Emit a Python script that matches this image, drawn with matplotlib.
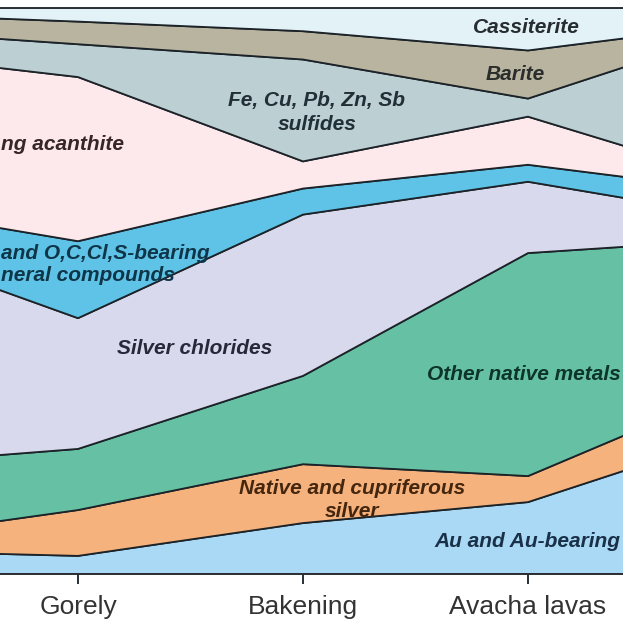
import matplotlib.pyplot as plt

plt.rcParams['font.family'] = ['Liberation Sans', 'DejaVu Sans']

# Data - five localities (the outer two are cut off in the figure), shares in %
positions = [0, 1, 2, 3, 4]
tick_pos = [1, 2, 3]
tick_labels = ['Gorely', 'Bakening', 'Avacha lavas']

au = [4.2, 3.2, 9.0, 12.7, 25.7]
native_silver = [1.5, 8.1, 10.4, 4.6, 8.4]
other_native = [13.3, 10.8, 15.6, 39.4, 25.2]
chlorides = [40.5, 23.1, 28.5, 12.6, 3.3]
ocls = [6.0, 13.6, 4.6, 3.0, 4.7]
acanthite = [26.9, 29.0, 4.8, 8.5, 1.4]
sulfides = [3.9, 5.8, 18.0, 3.2, 28.3]
barite = [2.8, 4.0, 5.0, 8.5, 0.5]
cassiterite = [0.9, 2.4, 4.1, 7.5, 2.5]

colors = ['#a9d9f4', '#f6b27c', '#66c1a4', '#d9d9ee', '#5ec3e6',
          '#fde9ec', '#bccfd3', '#b8b4a0', '#e2f2f7']

fig = plt.figure(figsize=(6.23, 6.23), dpi=100)
ax = fig.add_axes([0, 49/623, 1, 566/623])

ax.stackplot(positions, au, native_silver, other_native, chlorides, ocls,
             acanthite, sulfides, barite, cassiterite,
             colors=colors, edgecolor='#1c2328', linewidth=1.3)

# only the middle part of the original chart is visible
ax.set_xlim(1 - 78/225, 3 + 95/225)
ax.set_ylim(0, 100)

ax.spines['left'].set_visible(False)
ax.spines['right'].set_visible(False)
ax.spines['top'].set_color('#2a2f33')
ax.spines['bottom'].set_color('#2a2f33')
ax.spines['top'].set_linewidth(1.4)
ax.spines['bottom'].set_linewidth(1.4)

ax.set_yticks([])
ax.set_xticks(tick_pos)
ax.set_xticklabels(tick_labels, fontsize=19, color='#333333')
ax.tick_params(axis='x', direction='out', length=7, width=1.4, color='#2a2f33', pad=8)

# Layer labels
lab = dict(fontsize=15, fontweight='bold', fontstyle='italic', ha='center', va='center')
ax.text(2.991, 96.5, 'Cassiterite', color='#262c31', **lab)
ax.text(2.942, 88.3, 'Barite', color='#2a2d2b', **lab)
ax.text(2.062, 81.6, 'Fe, Cu, Pb, Zn, Sb\nsulfides', color='#222f37', linespacing=1.35, **lab)
ax.text(0.657, 75.8, 'ng acanthite', color='#352729', fontsize=15, fontweight='bold',
        fontstyle='italic', ha='left', va='center')
ax.text(0.657, 56.7, 'and O,C,Cl,S-bearing', color='#0f3549', fontsize=15, fontweight='bold',
        fontstyle='italic', ha='left', va='center')
ax.text(0.657, 52.8, 'neral compounds', color='#0f3549', fontsize=15, fontweight='bold',
        fontstyle='italic', ha='left', va='center')
ax.text(1.52, 39.9, 'Silver chlorides', color='#26293a', **lab)
ax.text(2.982, 35.2, 'Other native metals', color='#0d352b', **lab)
ax.text(2.218, 13.1, 'Native and cupriferous\nsilver', color='#45260e', linespacing=1.3, **lab)
ax.text(2.996, 5.8, 'Au and Au-bearing', color='#1a3049', **lab)

plt.savefig('out.png', dpi=100)
